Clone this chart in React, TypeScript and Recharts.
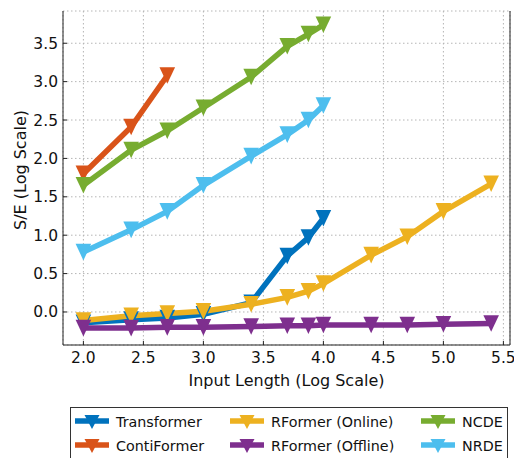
import { LineChart, Line, XAxis, YAxis, CartesianGrid } from 'recharts'

// log10 of input lengths
const xLong = [2.0, 2.398, 2.699, 3.0, 3.398, 3.699, 3.875, 4.0, 4.398, 4.699, 5.0, 5.398]
const xMid = xLong.slice(0, 8)
const xShort = xLong.slice(0, 3)

const transformer = [-0.14, -0.1, -0.08, -0.03, 0.12, 0.73, 0.97, 1.22]
const contiFormer = [1.8, 2.41, 3.08]
const rformerOnline = [-0.11, -0.05, -0.02, 0.01, 0.1, 0.19, 0.27, 0.37, 0.74, 0.98, 1.31, 1.67]
const rformerOffline = [-0.21, -0.21, -0.2, -0.2, -0.19, -0.18, -0.18, -0.17, -0.17, -0.17, -0.16, -0.15]
const ncde = [1.65, 2.11, 2.36, 2.66, 3.06, 3.46, 3.62, 3.74]
const nrde = [0.78, 1.07, 1.31, 1.65, 2.03, 2.31, 2.5, 2.69]

const xTicks = [2.0, 2.5, 3.0, 3.5, 4.0, 4.5, 5.0, 5.5]
const yTicks = [0.0, 0.5, 1.0, 1.5, 2.0, 2.5, 3.0, 3.5]

const toPoints = (xs: number[], ys: number[]) => xs.map((x, i) => ({ x, y: ys[i] }))

const series = [
  { name: 'Transformer', color: '#0072BD', data: toPoints(xMid, transformer) },
  { name: 'ContiFormer', color: '#D95319', data: toPoints(xShort, contiFormer) },
  { name: 'RFormer (Online)', color: '#EDB120', data: toPoints(xLong, rformerOnline) },
  { name: 'RFormer (Offline)', color: '#7E2F8E', data: toPoints(xLong, rformerOffline) },
  { name: 'NCDE', color: '#77AC30', data: toPoints(xMid, ncde) },
  { name: 'NRDE', color: '#4DBEEE', data: toPoints(xMid, nrde) },
]

// legend order: column-major, 2 rows
const legendOrder = ['Transformer', 'ContiFormer', 'RFormer (Online)', 'RFormer (Offline)', 'NCDE', 'NRDE']

const FONT = '"DejaVu Sans", sans-serif'

const TriDown = (props: any) => {
  const { cx, cy, fill } = props
  if (cx == null || cy == null) return null
  const w = 7.8
  const h = 8.3
  return <polygon points={`${cx - w},${cy - h} ${cx + w},${cy - h} ${cx},${cy + h}`} fill={fill} />
}

function LegendBox() {
  const colLeft = [3, 158, 349]
  const rowMid = [14, 38]
  return (
    <div
      style={{
        position: 'absolute',
        left: 70,
        top: 407,
        width: 436,
        height: 60,
        border: '1.5px solid #333',
        background: '#fff',
        fontFamily: FONT,
        fontSize: 14.3,
        color: '#111',
      }}
    >
      {legendOrder.map((name, i) => {
        const s = series.find((d) => d.name === name)!
        const col = Math.floor(i / 2)
        const row = i % 2
        return (
          <div
            key={name}
            style={{
              position: 'absolute',
              left: colLeft[col],
              top: rowMid[row] - 10,
              height: 20,
              display: 'flex',
              alignItems: 'center',
              whiteSpace: 'nowrap',
            }}
          >
            <svg width={36} height={20} style={{ marginRight: 6 }}>
              <line x1={1} y1={9} x2={35} y2={9} stroke={s.color} strokeWidth={5.5} />
              <polygon points="10.5,3 25.5,3 18,17" fill={s.color} />
            </svg>
            <span>{name}</span>
          </div>
        )
      })}
    </div>
  )
}

export default function App() {
  return (
    <div style={{ position: 'absolute', left: 0, top: 0, width: 514, height: 458, background: '#fff' }}>
      <LineChart width={514} height={458} margin={{ top: 11, right: 0, left: 0, bottom: 0 }}>
        <CartesianGrid stroke="#b5b5b5" strokeDasharray="1.5 2.5" strokeWidth={1} />
        <XAxis
          dataKey="x"
          type="number"
          domain={[1.83, 5.555]}
          allowDataOverflow
          ticks={xTicks}
          tickFormatter={(v: number) => v.toFixed(1)}
          height={113}
          tickSize={-4}
          tickMargin={11}
          stroke="#222"
          tick={{ fill: '#111', fontSize: 15.5, fontFamily: FONT }}
          label={{ value: 'Input Length (Log Scale)', position: 'insideTop', offset: 30, fill: '#111', fontSize: 16, fontFamily: FONT }}
        />
        <XAxis
          xAxisId="top"
          orientation="top"
          dataKey="x"
          type="number"
          domain={[1.83, 5.555]}
          allowDataOverflow
          ticks={xTicks}
          height={0}
          tickSize={-4}
          tick={false}
          stroke="#222"
        />
        <YAxis
          type="number"
          domain={[-0.43, 3.92]}
          allowDataOverflow
          ticks={yTicks}
          tickFormatter={(v: number) => v.toFixed(1)}
          width={63}
          tickSize={-4}
          tickMargin={9}
          stroke="#222"
          tick={{ fill: '#111', fontSize: 15.5, fontFamily: FONT }}
          label={{
            content: () => (
              <text
                x={20}
                y={170}
                transform="rotate(-90 20 170)"
                textAnchor="middle"
                dominantBaseline="central"
                fill="#111"
                fontSize={16}
                fontFamily={FONT}
              >
                S/E (Log Scale)
              </text>
            ),
          }}
        />
        <YAxis
          yAxisId="right"
          orientation="right"
          type="number"
          domain={[-0.43, 3.92]}
          ticks={yTicks}
          width={4}
          tickSize={-4}
          tick={false}
          stroke="#222"
        />
        {series.map((s) => (
          <Line
            key={s.name}
            data={s.data}
            dataKey="y"
            name={s.name}
            type="linear"
            stroke={s.color}
            strokeWidth={5.5}
            dot={(p: any) => <TriDown key={`${s.name}-${p.index}`} cx={p.cx} cy={p.cy} fill={s.color} />}
            activeDot={false}
            isAnimationActive={false}
          />
        ))}
      </LineChart>
      <LegendBox />
    </div>
  )
}
